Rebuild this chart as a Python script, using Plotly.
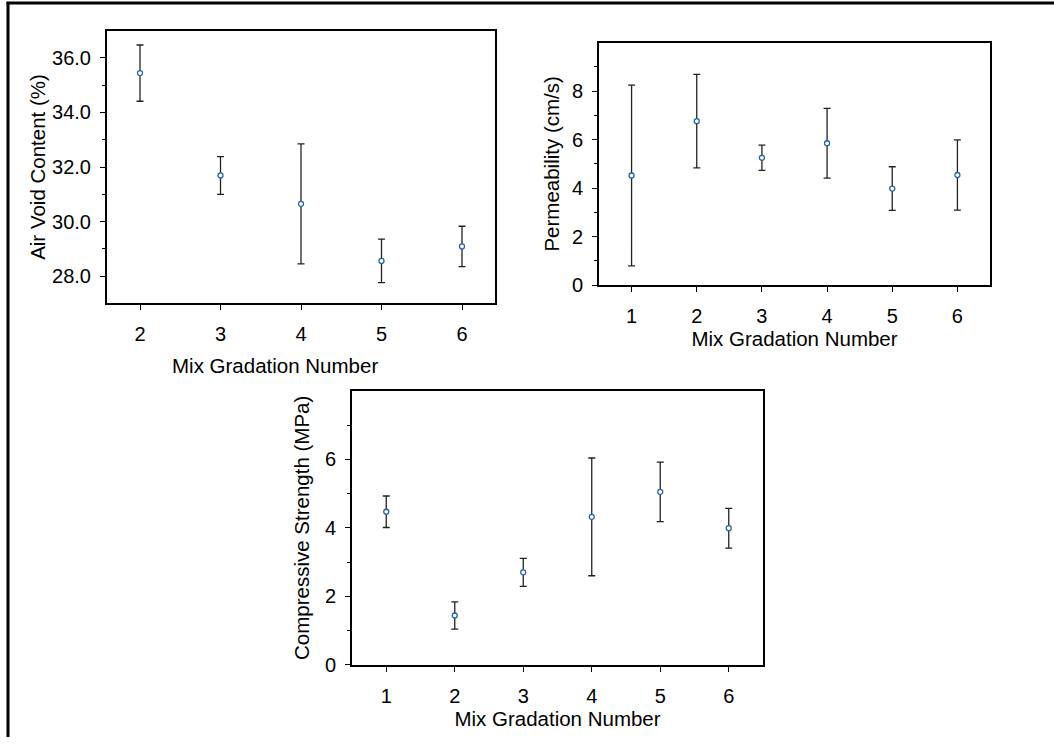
import plotly.graph_objects as go

# ---- data ----
air_x = [2, 3, 4, 5, 6]
air_mean = [35.44, 31.69, 30.65, 28.56, 29.09]
air_err = [1.03, 0.69, 2.20, 0.80, 0.74]

perm_x = [1, 2, 3, 4, 5, 6]
perm_mean = [4.52, 6.76, 5.25, 5.85, 3.98, 4.54]
perm_err = [3.73, 1.93, 0.52, 1.44, 0.90, 1.45]

comp_x = [1, 2, 3, 4, 5, 6]
comp_mean = [4.47, 1.44, 2.70, 4.32, 5.05, 3.99]
comp_err = [0.46, 0.40, 0.41, 1.72, 0.87, 0.58]

x_title = "Mix Gradation Number"
y_titles = ["Air Void Content (%)", "Permeability (cm/s)", "Compressive Strength (MPa)"]

W, H = 1054, 748
FONT = "Arial, Liberation Sans, sans-serif"
MARKER_COLOR = "#2363ad"
ERR_COLOR = "#222222"

def px_x(a, b):
    return [a / W, b / W]

def px_y(top, bottom):
    return [1 - bottom / H, 1 - top / H]

fig = go.Figure()

def add_series(x, y, e, xa, ya):
    fig.add_trace(go.Scatter(
        x=x, y=y, mode="markers", xaxis=xa, yaxis=ya, showlegend=False,
        marker=dict(symbol="circle", size=5, color="white",
                    line=dict(color=MARKER_COLOR, width=1.3)),
        error_y=dict(type="data", array=e, visible=True, color=ERR_COLOR,
                     thickness=1.3, width=3.5),
    ))

add_series(air_x, air_mean, air_err, "x", "y")
add_series(perm_x, perm_mean, perm_err, "x2", "y2")
add_series(comp_x, comp_mean, comp_err, "x3", "y3")

tickfont = dict(family=FONT, size=20, color="black")
titlefont = dict(family=FONT, size=20.5, color="black")

def xaxis(domain, rng, anchor, title, tv):
    return dict(domain=domain, range=rng, anchor=anchor, showline=True, mirror=True,
                linecolor="black", linewidth=2, ticks="outside", ticklen=5,
                tickwidth=1, tickcolor="black", showgrid=False, zeroline=False,
                tickmode="array", tickvals=tv, tickfont=tickfont, ticklabelstandoff=7,
                title=dict(text=title, font=titlefont, standoff=2))

def yaxis(domain, rng, anchor, title, tv, minor_tv, fmt, standoff):
    return dict(domain=domain, range=rng, anchor=anchor, showline=True, mirror=True,
                linecolor="black", linewidth=2, ticks="outside", ticklen=5,
                tickwidth=1, tickcolor="black", showgrid=False, zeroline=False,
                tickmode="array", tickvals=tv, tickformat=fmt, tickfont=tickfont,
                ticklabelstandoff=5,
                minor=dict(tickmode="array", tickvals=minor_tv, ticks="outside",
                           ticklen=3, tickwidth=1, tickcolor="black", showgrid=False),
                title=dict(text=title, font=titlefont, standoff=standoff))

fig.update_layout(
    width=W, height=H,
    margin=dict(l=0, r=0, t=0, b=0),
    paper_bgcolor="white", plot_bgcolor="white",
    font=dict(family=FONT, color="black"),
    xaxis=xaxis(px_x(107, 495), [1.59, 6.41], "y", "", air_x),
    yaxis=yaxis(px_y(31, 308), [27, 37], "x", y_titles[0],
                [28, 30, 32, 34, 36], [29, 31, 33, 35], ".1f", 1),
    xaxis2=xaxis(px_x(599, 990), [0.5, 6.5], "y2", x_title, perm_x),
    yaxis2=yaxis(px_y(43.3, 289.3), [0, 10], "x2", y_titles[1],
                 [0, 2, 4, 6, 8], [1, 3, 5, 7, 9], "d", 7),
    xaxis3=xaxis(px_x(352, 763), [0.5, 6.5], "y3", x_title, comp_x),
    yaxis3=yaxis(px_y(396.7, 674.7), [0, 8], "x3", y_titles[2],
                 [0, 2, 4, 6], [1, 3, 5, 7], "d", 10),
    annotations=[dict(text=x_title, xref="paper", yref="paper",
                      x=275 / W, y=1 - 371 / H, xanchor="center", yanchor="middle",
                      showarrow=False, font=titlefont)],
    shapes=[
        dict(type="line", xref="paper", yref="paper", x0=8 / W, x1=8 / W,
             y0=0, y1=1 - 2 / H, line=dict(color="black", width=3)),
        dict(type="line", xref="paper", yref="paper", x0=6.5 / W, x1=1,
             y0=1 - 3 / H, y1=1 - 3 / H, line=dict(color="black", width=3)),
    ],
)

fig.write_html("out.html", config={"displayModeBar": False},
               post_script="document.body.style.margin='0';")
